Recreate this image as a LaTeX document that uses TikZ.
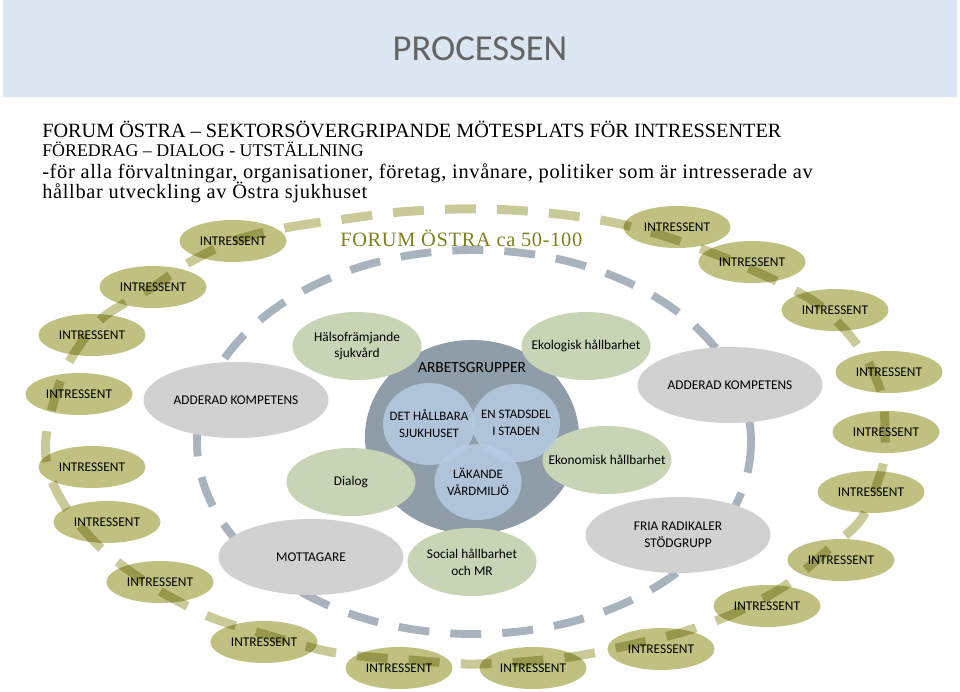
\documentclass[tikz,border=0pt]{standalone}
\usepackage{fontspec}
\setmainfont{Carlito}
\newfontfamily\hdrfont{Liberation Serif}
\newfontfamily\hdrwide[LetterSpace=3.3]{Liberation Serif}
\usetikzlibrary{shapes.geometric}

\definecolor{bandblue}{HTML}{DCE6F2}
\definecolor{titlegray}{HTML}{646464}
\definecolor{olivefill}{HTML}{C0C080}
\definecolor{olivedash}{HTML}{CACA98}
\definecolor{olivetext}{HTML}{80801C}
\definecolor{kompgray}{HTML}{D1D1D1}
\definecolor{ringgray}{HTML}{A8B3BD}
\definecolor{grpgreen}{HTML}{C7D4B6}
\definecolor{arbcircle}{HTML}{8E9DA8}
\definecolor{arbblue}{HTML}{B7CBE2}

\tikzset{
  lblfont/.style={font=\fontsize{9.5}{12}\selectfont},
  intr/.style={ellipse, fill=olivefill, minimum width=2.675cm, minimum height=1.05cm, inner sep=0pt, lblfont},
  komp/.style={ellipse, fill=kompgray, minimum width=4.625cm, minimum height=1.9cm, inner sep=0pt, align=center, lblfont},
  grp/.style={ellipse, fill=grpgreen, minimum width=3.225cm, minimum height=1.7cm, inner sep=0pt},
  arb/.style={ellipse, fill=arbblue, fill opacity=0.85, inner sep=0pt},
  lbl/.style={align=center, inner sep=0pt, text opacity=1, lblfont},
  headline/.style={anchor=base west, inner sep=0pt},
  ring/.style={line width=5.6pt, dash pattern=on 22pt off 15pt},
}

\begin{document}
\begin{tikzpicture}[x=0.025cm, y=-0.025cm]
\useasboundingbox (0,0) rectangle (960,691);

% header
\fill[bandblue] (3,0) rectangle (957,97);
\node[text=titlegray, font=\fontsize{26}{30}\selectfont] (title) at (480,49) {PROCESSEN};

\node[headline, font=\hdrfont\fontsize{14.4}{17}\selectfont] (head1) at (42,137)
  {FORUM ÖSTRA – SEKTORSÖVERGRIPANDE MÖTESPLATS FÖR INTRESSENTER};
\node[headline, font=\hdrfont\fontsize{12.7}{15}\selectfont] (head2) at (42,156)
  {FÖREDRAG – DIALOG - UTSTÄLLNING};
\node[headline, font=\hdrwide\fontsize{14.5}{17}\selectfont] (head3) at (42,178)
  {-för alla förvaltningar, organisationer, företag, invånare, politiker som är intresserade av};
\node[headline, font=\hdrwide\fontsize{14.5}{17}\selectfont] (head4) at (42,198)
  {hållbar utveckling av Östra sjukhuset};

\node[headline, text=olivetext, font=\hdrwide\fontsize{14.5}{17}\selectfont] (forum) at (340,246)
  {FORUM ÖSTRA ca 50-100};

% inner ring
\draw[ring, ringgray] (474,442) ellipse (277 and 192);

\node[komp] (kompL) at (236,400) {ADDERAD KOMPETENS};
\node[komp] (kompR) at (730,385) {ADDERAD KOMPETENS};
\node[komp] (mott) at (311,557) {MOTTAGARE};
\node[komp] (fria) at (678,535) {FRIA RADIKALER\\STÖDGRUPP};

% arbetsgrupper
\node[ellipse, fill=arbcircle, minimum width=5.35cm, minimum height=4.85cm] (arbets) at (472,437) {};
\node[lbl, font=\fontsize{11}{13}\selectfont] (arbetsT) at (472,368) {ARBETSGRUPPER};

\node[grp, label={[lbl, name=halsoT]center:{Hälsofrämjande\\sjukvård}}] (halso) at (357,346) {};
\node[grp, label={[lbl, name=ekoT]center:{Ekologisk hållbarhet}}] (eko) at (586,346) {};
\node[grp, label={[lbl, name=dialogT]center:{Dialog}}] (dialog) at (351,482) {};
\node[grp, label={[lbl, name=ekonT]center:{Ekonomisk hållbarhet}}] (ekon) at (607,460) {};
\node[grp, label={[lbl, name=socialT]center:{Social hållbarhet\\och MR}}] (social) at (472,562) {};

\node[arb, minimum width=2.2cm, minimum height=1.95cm] (stads) at (516,423) {};
\node[arb, minimum width=2.3cm, minimum height=2.05cm] (hallb) at (429,424) {};
\node[arb, minimum width=2.175cm, minimum height=1.9cm] (lakande) at (478,482) {};
\node[lbl, font=\fontsize{9.2}{12}\selectfont] (hallbT) at (hallb) {DET HÅLLBARA\\SJUKHUSET};
\node[lbl, font=\fontsize{9.2}{12}\selectfont] (stadsT) at (stads) {EN STADSDEL\\I STADEN};
\node[lbl, font=\fontsize{9.2}{12}\selectfont] (lakandeT) at (lakande) {LÄKANDE\\VÅRDMILJÖ};

% intressenter
\node[intr] (i1) at (233,241) {INTRESSENT};
\node[intr] (i2) at (153,287) {INTRESSENT};
\node[intr] (i3) at (92,335) {INTRESSENT};
\node[intr] (i4) at (79,394) {INTRESSENT};
\node[intr] (i5) at (92,467) {INTRESSENT};
\node[intr] (i6) at (107,522) {INTRESSENT};
\node[intr] (i7) at (160,582) {INTRESSENT};
\node[intr] (i8) at (264,642) {INTRESSENT};
\node[intr] (i9) at (399,668) {INTRESSENT};
\node[intr] (i10) at (533,668) {INTRESSENT};
\node[intr] (i11) at (661,649) {INTRESSENT};
\node[intr] (i12) at (767,606) {INTRESSENT};
\node[intr] (i13) at (841,560) {INTRESSENT};
\node[intr] (i14) at (871,492) {INTRESSENT};
\node[intr] (i15) at (886,432) {INTRESSENT};
\node[intr] (i16) at (889,372) {INTRESSENT};
\node[intr] (i17) at (835,310) {INTRESSENT};
\node[intr] (i18) at (752,262) {INTRESSENT};
\node[intr] (i19) at (677,227) {INTRESSENT};

% outer ring
\begin{scope}[blend mode=multiply]
\draw[line width=6.4pt, olivedash, dash pattern=on 22pt off 15pt] plot[smooth cycle] coordinates {
  (236,240) (290,227) (345,219) (400,212) (456,209) (511,210) (566,215) (616,223)
  (667,237) (720,256) (770,278) (815,302) (845,330) (866,358) (882,395) (885,430)
  (883,465) (862,518) (830,548) (786,585) (735,613) (686,631) (630,645) (577,656)
  (520,662) (466,664) (410,660) (360,656) (317,649) (233,625) (197,611) (150,585)
  (103,550) (67,509) (48,470) (47,430) (65,370) (100,320) (153,287) (190,262)};
\end{scope}

\end{tikzpicture}
\end{document}
